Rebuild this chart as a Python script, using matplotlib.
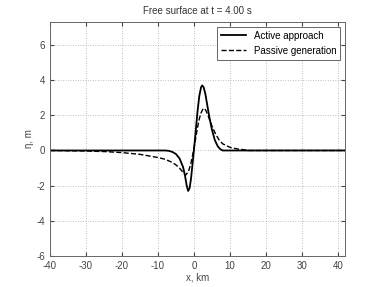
import matplotlib
matplotlib.use("Agg")
import matplotlib.pyplot as plt

# Active approach (solid)
x_active = [-40, -8, -7, -6, -5, -4, -3, -2.5, -2, -1.6, -1.2, -0.8, -0.4, 0, 0.5, 1, 1.5, 2, 2.3,
            2.7, 3.2, 3.7, 4.3, 5, 5.8, 6.6, 7.3, 8, 10, 42]
y_active = [0, 0, -0.02, -0.08, -0.2, -0.45, -0.95, -1.4, -2.0, -2.3, -2.15, -1.6, -0.8, 0.0, 1.1, 2.2, 3.1, 3.6, 3.7,
            3.6, 3.2, 2.6, 1.9, 1.2, 0.6, 0.25, 0.08, 0.0, 0, 0]

# Passive generation (dashed)
x_passive = [-40, -30, -25, -20, -15, -10, -8, -6, -5, -4, -3, -2.3, -1.5, -0.8, 0, 0.5, 1, 1.5, 2, 2.5,
             2.9, 3.4, 4, 5, 6, 7, 8, 10, 12, 14, 15, 42]
y_passive = [0, -0.03, -0.06, -0.12, -0.22, -0.4, -0.5, -0.68, -0.82, -1.0, -1.25, -1.4, -1.2, -0.7, 0.1, 0.7, 1.3, 1.8, 2.15, 2.35,
             2.4, 2.25, 1.95, 1.4, 0.95, 0.6, 0.38, 0.18, 0.09, 0.04, 0, 0]

plt.rcParams['font.family'] = ['Liberation Sans', 'DejaVu Sans']
plt.rcParams['font.size'] = 7
plt.rcParams['axes.unicode_minus'] = False

fig = plt.figure(figsize=(3.82, 2.87), dpi=100)
ax = fig.add_axes([0.131, 0.108, 0.772, 0.815])

ax.plot(x_active, y_active, "k-", lw=1.3, label="Active approach")
ax.plot(x_passive, y_passive, "k--", lw=1.0, label="Passive generation")

ax.set_xlim(-40, 42)
ax.set_ylim(-6, 7.3)
ax.set_xticks(range(-40, 41, 10))
ax.set_yticks(range(-6, 7, 2))
ax.grid(True, linestyle=(0, (1, 2)), color="#aaaaaa", lw=0.6)
ax.tick_params(direction="in", top=True, right=True, length=3, colors="#444444", labelcolor="#444444")
for s in ax.spines.values():
    s.set_color("#666666")
    s.set_linewidth(0.7)

ax.set_title("Free surface at t = 4.00 s", fontsize=7, color="#333333")
ax.set_xlabel("x, km", color="#444444", labelpad=1)
ax.set_ylabel("η, m", color="#444444", labelpad=2)

leg = ax.legend(loc="upper right", fancybox=False, framealpha=1, edgecolor="#666666",
                handlelength=2.6, borderaxespad=0.5, fontsize=7)
leg.get_frame().set_linewidth(0.7)

fig.savefig("out.png", dpi=100)
